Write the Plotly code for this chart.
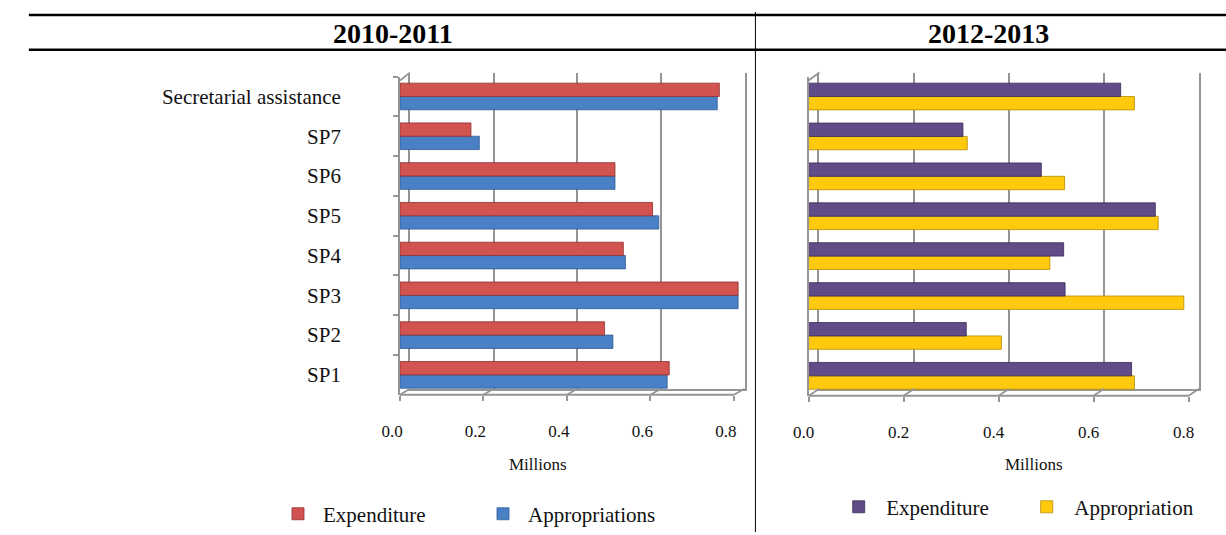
import plotly.graph_objects as go

W, H = 1226, 535

categories = ["SP1", "SP2", "SP3", "SP4", "SP5", "SP6", "SP7", "Secretarial assistance"]
exp_2010 = [0.645, 0.49, 0.81, 0.535, 0.605, 0.515, 0.17, 0.765]
app_2010 = [0.64, 0.51, 0.81, 0.54, 0.62, 0.515, 0.19, 0.76]
exp_2012 = [0.68, 0.332, 0.54, 0.537, 0.73, 0.49, 0.325, 0.657]
app_2012 = [0.686, 0.406, 0.79, 0.508, 0.736, 0.539, 0.334, 0.686]
tick_vals = [0.0, 0.2, 0.4, 0.6, 0.8]
tick_text = ["0.0", "0.2", "0.4", "0.6", "0.8"]
panel_titles = ["2010-2011", "2012-2013"]
axis_title = "Millions"


def px(p):
    return p / W


def py(p):
    return 1 - p / H


FONT = "Liberation Serif"
GRID = "#959595"

L_front = dict(x0=387, scale=424, xmax=0.84, ytop=77, ybot=397, shift=-8)
L_back = dict(x0=397, scale=425, ytop=73, ybot=391)
R_front = dict(x0=802, scale=482.5, xmax=0.82, ytop=77, ybot=398, shift=-5)
R_back = dict(x0=813, scale=482, ytop=73, ybot=391)

fig = go.Figure()

# invisible traces carrying the back-wall grid subplots
fig.add_trace(go.Scatter(x=[0, 0.8], y=[0, 1], xaxis="x", yaxis="y", mode="markers",
                         marker=dict(opacity=0), showlegend=False, hoverinfo="skip"))
fig.add_trace(go.Scatter(x=[0, 0.8], y=[0, 1], xaxis="x2", yaxis="y2", mode="markers",
                         marker=dict(opacity=0), showlegend=False, hoverinfo="skip"))

fig.add_trace(go.Bar(y=categories, x=app_2010, orientation="h", name="Appropriations",
                     marker=dict(color="#4A80C6", line=dict(color="#2F5A94", width=0.8)),
                     xaxis="x3", yaxis="y3", legend="legend", legendrank=2))
fig.add_trace(go.Bar(y=categories, x=exp_2010, orientation="h", name="Expenditure",
                     marker=dict(color="#D25451", line=dict(color="#8E2F2D", width=0.8)),
                     xaxis="x3", yaxis="y3", legend="legend", legendrank=1))
fig.add_trace(go.Bar(y=categories, x=app_2012, orientation="h", name="Appropriation",
                     marker=dict(color="#FFC90E", line=dict(color="#B58A00", width=0.8)),
                     xaxis="x4", yaxis="y4", legend="legend2", legendrank=2))
fig.add_trace(go.Bar(y=categories, x=exp_2012, orientation="h", name="Expenditure",
                     marker=dict(color="#614C88", line=dict(color="#3A2A57", width=0.8)),
                     xaxis="x4", yaxis="y4", legend="legend2", legendrank=1))


def grid_axes(b, anchor):
    xa = dict(domain=[px(b["x0"]), px(b["x0"] + 0.8 * b["scale"])], range=[0, 0.8],
              anchor=anchor[1], tickvals=tick_vals, showticklabels=False, showgrid=True,
              gridcolor=GRID, gridwidth=1.8, zeroline=False, showline=True, linecolor=GRID,
              linewidth=1.8, ticks="", fixedrange=True)
    ya = dict(domain=[py(b["ybot"]), py(b["ytop"])], range=[0, 1], anchor=anchor[0],
              showgrid=False, showticklabels=False, zeroline=False, showline=True, mirror=True,
              linecolor=GRID, linewidth=1.8, ticks="", fixedrange=True)
    return xa, ya


def front_axes(f, anchor, show_cat):
    xa = dict(domain=[px(f["x0"]), px(f["x0"] + f["xmax"] * f["scale"])], range=[0, f["xmax"]],
              anchor=anchor[1], tickvals=tick_vals, ticktext=tick_text, showgrid=False,
              zeroline=False, showline=False, ticks="outside", ticklen=5, tickcolor=GRID,
              tickwidth=1.8, ticklabelstandoff=16, ticklabelshift=f["shift"],
              tickfont=dict(family=FONT, size=17, color="#111"), fixedrange=True)
    ya = dict(domain=[py(f["ybot"]), py(f["ytop"])], range=[-0.5, 7.5], type="category",
              anchor=anchor[0], categoryorder="array", categoryarray=categories,
              showgrid=False, zeroline=False, showline=True, linecolor=GRID, linewidth=1.8,
              showticklabels=show_cat, ticks="outside" if show_cat else "",
              tickson="boundaries", ticklen=5, tickcolor=GRID, tickwidth=1.5,
              ticklabelstandoff=53, tickfont=dict(family=FONT, size=21, color="#111"),
              fixedrange=True)
    return xa, ya


gx1, gy1 = grid_axes(L_back, ("x", "y"))
gx2, gy2 = grid_axes(R_back, ("x2", "y2"))
fx3, fy3 = front_axes(L_front, ("x3", "y3"), True)
fx4, fy4 = front_axes(R_front, ("x4", "y4"), False)

shapes = []


def floor_shapes(f, b):
    fx = lambda v: px(f["x0"] + v * f["scale"])
    bx = lambda v: px(b["x0"] + v * b["scale"])
    line = dict(color=GRID, width=1.8)
    shapes.append(dict(type="line", xref="paper", yref="paper", x0=fx(0), x1=fx(0.8),
                       y0=py(f["ybot"]), y1=py(f["ybot"]), line=line))
    for v in tick_vals:
        shapes.append(dict(type="line", xref="paper", yref="paper", x0=fx(v), x1=bx(v),
                           y0=py(f["ybot"]), y1=py(b["ybot"]), line=line))
    shapes.append(dict(type="line", xref="paper", yref="paper", x0=fx(0), x1=bx(0),
                       y0=py(f["ytop"] + 4), y1=py(b["ytop"]), line=line))


floor_shapes(L_front, L_back)
floor_shapes(R_front, R_back)

# header rules and panel divider
shapes += [
    dict(type="line", xref="paper", yref="paper", x0=px(10), x1=1, y0=py(15), y1=py(15),
         line=dict(color="black", width=2.5)),
    dict(type="line", xref="paper", yref="paper", x0=px(10), x1=1, y0=py(50), y1=py(50),
         line=dict(color="black", width=2.5)),
    dict(type="line", xref="paper", yref="paper", x0=px(748), x1=px(748), y0=0, y1=py(12),
         line=dict(color="black", width=1)),
]

annotations = [
    dict(text=f"<b>{panel_titles[0]}</b>", x=px(380), y=py(34), xref="paper", yref="paper",
         xanchor="center", yanchor="middle", showarrow=False,
         font=dict(family=FONT, size=28, color="black")),
    dict(text=f"<b>{panel_titles[1]}</b>", x=px(985), y=py(34), xref="paper", yref="paper",
         xanchor="center", yanchor="middle", showarrow=False,
         font=dict(family=FONT, size=28, color="black")),
    dict(text=axis_title, x=px(527), y=py(467), xref="paper", yref="paper",
         xanchor="center", yanchor="middle", showarrow=False,
         font=dict(family=FONT, size=17, color="#111")),
    dict(text=axis_title, x=px(1031), y=py(467), xref="paper", yref="paper",
         xanchor="center", yanchor="middle", showarrow=False,
         font=dict(family=FONT, size=17, color="#111")),
]

fig.update_layout(
    width=W, height=H, margin=dict(l=0, r=0, t=0, b=0),
    paper_bgcolor="white", plot_bgcolor="rgba(0,0,0,0)",
    barmode="group", bargap=0.33, bargroupgap=0,
    xaxis=gx1, yaxis=gy1, xaxis2=gx2, yaxis2=gy2,
    xaxis3=fx3, yaxis3=fy3, xaxis4=fx4, yaxis4=fy4,
    shapes=shapes, annotations=annotations,
    legend=dict(orientation="h", x=px(258), y=py(517), xanchor="left", yanchor="middle",
                font=dict(family=FONT, size=21, color="#111"), entrywidth=150,
                itemwidth=40, bgcolor="rgba(0,0,0,0)"),
    legend2=dict(orientation="h", x=px(825), y=py(510), xanchor="left", yanchor="middle",
                 font=dict(family=FONT, size=21, color="#111"), entrywidth=128,
                 itemwidth=45, bgcolor="rgba(0,0,0,0)"),
    showlegend=True,
)

fig.write_html("out.html")
